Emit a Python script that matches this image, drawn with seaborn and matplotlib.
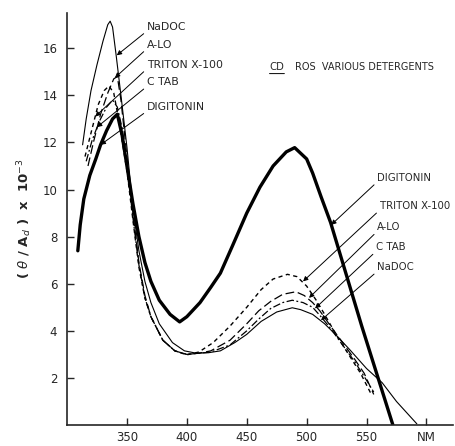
import matplotlib
matplotlib.use('Agg')
import matplotlib.pyplot as plt
import numpy as np
import pandas as pd
import seaborn as sns

# wavelength (nm) and (theta/A_d) x 10^-3
dig_x = [309, 311, 314, 319, 324, 328, 333, 338, 342, 346, 350, 355, 360, 365, 370, 377,
         386, 394, 400, 411, 420, 428, 438, 450, 461, 472, 483, 490, 500, 505,
         512, 520, 546, 572]
dig_y = [7.4, 8.5, 9.6, 10.6, 11.3, 11.9, 12.5, 13.0, 13.2, 12.3, 11.0, 9.4, 8.0, 6.9, 6.1, 5.3,
         4.7, 4.38, 4.6, 5.2, 5.85, 6.45, 7.6, 9.0, 10.1, 11.0, 11.6, 11.78, 11.3, 10.7,
         9.7, 8.6, 4.2, 0.0]

nadoc_x = [313, 316, 320, 325, 330, 334, 336, 338, 341, 345, 350, 355, 360, 365, 370, 377,
           388, 398, 408, 418, 428, 440, 450, 462, 475, 488, 495, 505, 515, 525, 536, 550,
           563, 575, 592]
nadoc_y = [11.9, 13.0, 14.2, 15.3, 16.3, 17.0, 17.15, 16.9, 15.7, 14.0, 11.8, 9.2, 7.4, 6.1, 5.2, 4.3,
           3.5, 3.15, 3.05, 3.07, 3.15, 3.5, 3.85, 4.4, 4.8, 4.98, 4.9, 4.7, 4.3, 3.8, 3.2, 2.4,
           1.8, 1.0, 0.05]

alo_x = [317.5, 322, 328, 334, 339, 342, 345, 350, 355, 360, 365, 370, 380, 390, 400, 410,
         420, 436, 450, 460, 470, 480, 491, 498, 505, 511, 520, 530, 540, 548, 556]
alo_y = [11.0, 12.0, 13.2, 14.1, 14.7, 14.8, 13.8, 11.4, 9.0, 6.9, 5.5, 4.6, 3.6, 3.15, 3.0, 3.05,
         3.15, 3.6, 4.3, 4.85, 5.25, 5.55, 5.66, 5.5, 5.2, 4.85, 4.2, 3.5, 2.8, 2.2, 1.3]

triton_x = [315, 320, 326, 331, 335, 339, 343, 350, 355, 360, 365, 370, 380, 390, 400, 410,
            422, 436, 450, 462, 472, 484, 492, 500, 508, 515, 525, 535, 545, 554]
triton_y = [11.4, 12.4, 13.6, 14.2, 14.4, 14.1, 13.0, 10.8, 8.7, 6.7, 5.4, 4.6, 3.6, 3.15, 2.98, 3.1,
            3.5, 4.2, 5.0, 5.75, 6.2, 6.4, 6.3, 5.9, 5.3, 4.7, 3.8, 3.0, 2.2, 1.3]

ctab_x = [316, 321, 327, 333, 338, 342, 346, 350, 355, 360, 365, 370, 380, 390, 400, 410,
          420, 436, 450, 460, 470, 480, 488, 497, 505, 512, 520, 530, 540, 550, 556]
ctab_y = [11.2, 12.1, 12.9, 13.5, 13.8, 13.5, 12.6, 11.0, 8.8, 6.8, 5.4, 4.6, 3.6, 3.15, 3.0, 3.05,
          3.1, 3.4, 4.0, 4.5, 4.95, 5.2, 5.3, 5.2, 5.0, 4.6, 4.1, 3.4, 2.7, 1.9, 1.4]

y_ticks = [2, 4, 6, 8, 10, 12, 14, 16]
x_ticks = [350, 400, 450, 500, 550, 600]
x_ticklabels = ['350', '400', '450', '500', '550', 'NM']

sns.set_style('ticks')
plt.rcParams['font.family'] = ['DejaVu Sans']
plt.rcParams['mathtext.fontset'] = 'dejavusans'

fig = plt.figure(figsize=(4.56, 4.46), dpi=100)
ax = fig.add_axes([0.147, 0.047, 0.846, 0.924])

curves = [
    (dig_x, dig_y, 2.4, '-'),
    (nadoc_x, nadoc_y, 0.8, '-'),
    (alo_x, alo_y, 0.9, (0, (7, 3))),
    (triton_x, triton_y, 1.0, (0, (3, 2.5))),
    (ctab_x, ctab_y, 0.9, (0, (6, 2, 1.5, 2))),
]
for xs, ys, lw, ls in curves:
    sns.lineplot(x=xs, y=ys, ax=ax, color='black', linewidth=lw, linestyle=ls,
                 estimator=None, sort=False, solid_joinstyle='round',
                 solid_capstyle='round')

ax.set_xlim(300, 622)
ax.set_ylim(0, 17.5)
ax.set_xticks(x_ticks)
ax.set_xticklabels(x_ticklabels)
ax.set_yticks(y_ticks)
ax.tick_params(direction='in', length=5, width=1, labelsize=8.5)
ax.tick_params(axis='x', pad=4)
ax.tick_params(axis='y', pad=7)
for s in ['top', 'right']:
    ax.spines[s].set_visible(False)
for s in ['left', 'bottom']:
    ax.spines[s].set_linewidth(1.2)

ax.set_ylabel(r'( $\theta$ / A$_d$ )  x  10$^{-3}$', fontsize=9.5, fontweight='bold', labelpad=6)
ax.set_xlabel('')

# labels with arrows
arrow = dict(arrowstyle='-|>', color='black', lw=0.7, mutation_scale=7, shrinkA=0, shrinkB=0,
             relpos=(0, 0.1))
left_labels = [
    ('NaDOC', (366.7, 16.9), (341.5, 15.7)),
    ('A-LO', (366.7, 16.15), (340, 14.75)),
    ('TRITON X-100', (366.7, 15.3), (323.5, 13.1)),
    ('C TAB', (366.7, 14.55), (325, 12.65)),
    ('DIGITONIN', (366.7, 13.5), (328, 11.9)),
]
right_labels = [
    ('DIGITONIN', (559, 10.5), (520.5, 8.5)),
    ('TRITON X-100', (561, 9.3), (497, 6.1)),
    ('A-LO', (559, 8.4), (502, 5.4)),
    ('C TAB', (558, 7.55), (507, 4.95)),
    ('NaDOC', (559, 6.7), (512, 4.45)),
]
for txt, pos, tip in left_labels:
    ax.annotate(txt, xy=tip, xytext=pos, fontsize=7.8, ha='left', va='center',
                arrowprops=arrow)
for txt, pos, tip in right_labels:
    ax.annotate(txt, xy=tip, xytext=pos, fontsize=7.3, ha='left', va='center',
                arrowprops=arrow)

cd = ax.text(469, 15.2, 'CD', fontsize=7.3, ha='left', va='center')
ax.annotate('', xy=(1, -0.15), xytext=(0, -0.15), xycoords=cd, textcoords=cd,
            arrowprops=dict(arrowstyle='-', lw=0.7, color='black', shrinkA=0, shrinkB=0))
ax.text(490, 15.2, 'ROS  VARIOUS DETERGENTS', fontsize=7, ha='left', va='center')

fig.savefig('out.png', dpi=100)
